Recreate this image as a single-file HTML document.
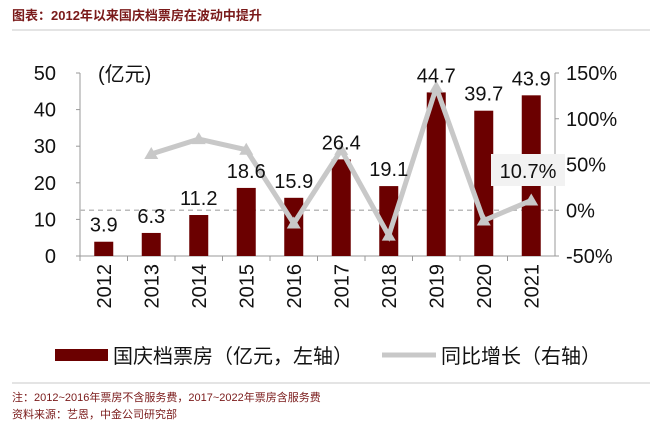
<!DOCTYPE html>
<html><head><meta charset="utf-8"><style>
body{margin:0;background:#fff;}
svg{display:block;font-family:"Liberation Sans","Noto Sans CJK SC",sans-serif;}
</style></head><body>
<svg id="c" width="660" height="428" viewBox="0 0 660 428">
<text x="12" y="20" font-size="13" font-weight="bold" fill="#7a1a1a">图表：2012年以来国庆档票房在波动中提升</text>
<line x1="12" y1="30" x2="650" y2="30" stroke="#e4e4e4" stroke-width="2"/>
<g id="plot"></g>
<g>
<rect x="55" y="349" width="53" height="12" fill="#6b0000"/>
<text x="113" y="363" font-size="20" fill="#111">国庆档票房（亿元，左轴）</text>
<line x1="382" y1="355" x2="436" y2="355" stroke="#c8c8c8" stroke-width="5"/>
<text x="441" y="363" font-size="20" fill="#111">同比增长（右轴）</text>
</g>
<line x1="12" y1="383" x2="650" y2="383" stroke="#e4e4e4" stroke-width="2"/>
<text x="12" y="401" font-size="11" fill="#7a1a1a">注：2012~2016年票房不含服务费，2017~2022年票房含服务费</text>
<text x="12" y="418" font-size="11" fill="#7a1a1a">资料来源：艺恩，中金公司研究部</text>
</svg>
<script>
const years=["2012","2013","2014","2015","2016","2017","2018","2019","2020","2021"];
const boxOffice=[3.9,6.3,11.2,18.6,15.9,26.4,19.1,44.7,39.7,43.9];
const growth=[null,61.5,77.8,66.1,-14.5,66.0,-27.7,134.0,-11.2,10.7];
const leftTicks=[0,10,20,30,40,50];
const rightTicks=[-50,0,50,100,150];
const NS="http://www.w3.org/2000/svg";
const g=document.getElementById('plot');
const X0=80,X1=555,Y0=256,Y1=73;
const step=(X1-X0)/years.length;
const xc=i=>X0+step*(i+0.5);
const yL=v=>Y0-(v-0)/(50-0)*(Y0-Y1);
const yR=v=>Y0-(v+50)/200*(Y0-Y1);
function mk(tag,attrs,txt){const e=document.createElementNS(NS,tag);for(const k in attrs)e.setAttribute(k,attrs[k]);if(txt!==undefined)e.textContent=txt;g.appendChild(e);return e;}
// axes
let a=mk('line',{x1:X0,y1:Y1,x2:X0,y2:Y0,stroke:'#999'});
a=mk('line',{x1:X1,y1:Y1,x2:X1,y2:Y0,stroke:'#999'});
a=mk('line',{x1:X0,y1:Y0,x2:X1,y2:Y0,stroke:'#999'});
a=mk('line',{x1:X0,y1:yR(0),x2:X1,y2:yR(0),stroke:'#bbb','stroke-dasharray':'5,4','stroke-width':1.5});
leftTicks.forEach(t=>{
 let l=mk('line',{x1:X0-4,y1:yL(t),x2:X0,y2:yL(t),stroke:'#999'});
 let e=mk('text',{x:56,y:yL(t)+7,'font-size':20,'text-anchor':'end',fill:'#111'},t);
});
rightTicks.forEach(t=>{
 let l=mk('line',{x1:X1,y1:yR(t),x2:X1+4,y2:yR(t),stroke:'#999'});
 let e=mk('text',{x:566,y:yR(t)+7,'font-size':20,fill:'#111'},t+'%');
});
let u=mk('text',{x:98,y:81,'font-size':20,fill:'#111'},'(亿元)');
years.forEach((y,i)=>{
 let t=mk('line',{x1:X0+step*i,y1:Y0,x2:X0+step*i,y2:Y0+5,stroke:'#999'});
 let e=mk('text',{x:0,y:0,'font-size':20,fill:'#111','text-anchor':'end',transform:`translate(${xc(i)+7},264) rotate(-90)`},y);
 
});
boxOffice.forEach((v,i)=>{
 let r=mk('rect',{x:xc(i)-9.5,y:yL(v),width:19,height:Y0-yL(v),fill:'#6b0000'});
 
});
// line
const pts=[];growth.forEach((v,i)=>{if(v!==null)pts.push([xc(i),yR(v)]);});
let pl=mk('polyline',{points:pts.map(p=>p.join(',')).join(' '),fill:'none',stroke:'#c8c8c8','stroke-width':5,'stroke-linejoin':'miter'});

pts.forEach(p=>{
 let m=mk('polygon',{points:`${p[0]},${p[1]-7} ${p[0]-7},${p[1]+5} ${p[0]+7},${p[1]+5}`,fill:'#c8c8c8'});
 
});
// bar value labels
boxOffice.forEach((v,i)=>{
 let ly=yL(v)-10;
 let e=mk('text',{x:xc(i),y:ly,'font-size':20,fill:'#111','text-anchor':'middle'},v.toFixed(1));
 
});
let bx=mk('rect',{x:491,y:154,width:74,height:32,fill:'#f2f2f2'});
let gl=mk('text',{x:528,y:178,'font-size':20,fill:'#111','text-anchor':'middle'},growth[9].toFixed(1)+'%');
</script>
</body></html>
